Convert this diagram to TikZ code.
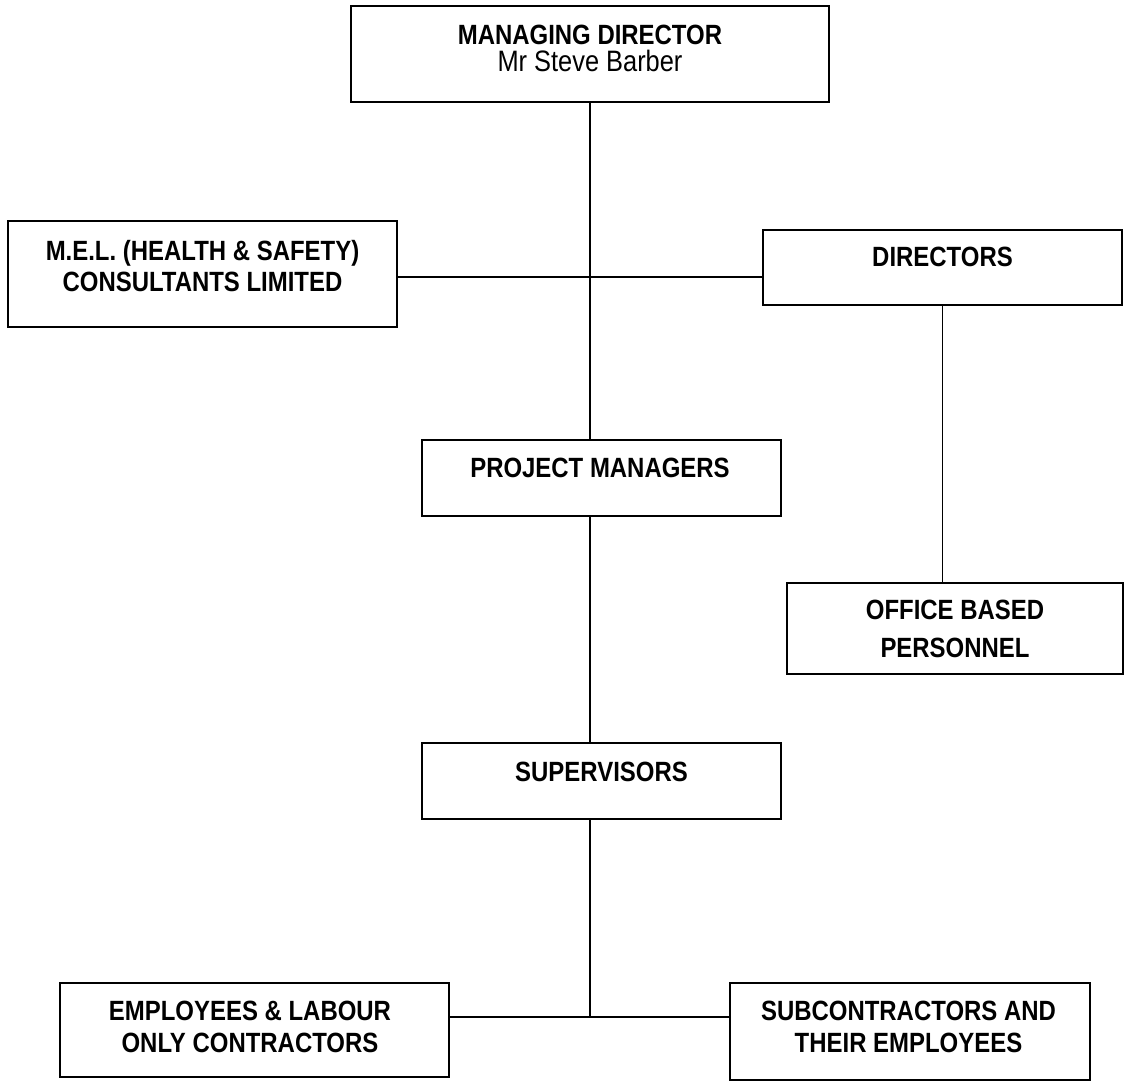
\documentclass[tikz,border=0pt]{standalone}
\usepackage{fontspec}
\setmainfont{Liberation Sans}[FakeStretch=0.86]
\usetikzlibrary{positioning}

\tikzset{
	box/.style={draw, line width=1.8pt, inner sep=0pt},
	title/.style={font=\bfseries\fontsize{19.8}{22.6}\selectfont, align=center, inner sep=0pt},
	link/.style={line width=0.9pt}
}

\begin{document}
\begin{tikzpicture}[x=0.025cm, y=-0.025cm]
		\useasboundingbox (0,0) rectangle (1127,1091);
		% boxes
		\node [box, minimum width=11.95cm, minimum height=2.4cm] (md) at (590,54) {};
		\node [box, minimum width=9.725cm, minimum height=2.65cm] (mel) at (202.5,274) {};
		\node [box, minimum width=8.975cm, minimum height=1.875cm] (dir) at (942.5,267.5) {};
		\node [box, minimum width=8.975cm, minimum height=1.9cm] (pm) at (601.5,478) {};
		\node [box, minimum width=8.4cm, minimum height=2.275cm] (office) at (955,628.5) {};
		\node [box, minimum width=8.975cm, minimum height=1.9cm] (sup) at (601.5,781) {};
		\node [box, minimum width=9.725cm, minimum height=2.35cm] (emp) at (254.5,1030) {};
		\node [box, minimum width=9cm, minimum height=2.425cm] (sub) at (910,1031.5) {};
		% texts
		\node [title, font=\fontsize{19.8}{19.4}\selectfont] (md-t) at (590,48.5) {\bfseries MANAGING DIRECTOR\\\fontsize{21}{19.4}\selectfont Mr Steve Barber};
		\node [title] (mel-t) at (202.5,266) {M.E.L. (HEALTH \& SAFETY)\\CONSULTANTS LIMITED};
		\node [title] (dir-t) at (942.5,256.7) {DIRECTORS};
		\node [title] (pm-t) at (600,468) {PROJECT MANAGERS};
		\node [title, font=\bfseries\fontsize{19.8}{27}\selectfont] (office-t) at (955,628.8) {OFFICE BASED\\PERSONNEL};
		\node [title] (sup-t) at (601.5,771.7) {SUPERVISORS};
		\node [title] (emp-t) at (250,1026.8) {EMPLOYEES \& LABOUR\\ONLY CONTRACTORS};
		\node [title] (sub-t) at (908.5,1026.7) {SUBCONTRACTORS AND\\THEIR EMPLOYEES};
		% connectors
		\coordinate (mid) at (590,277);
		\coordinate (foot) at (590,1017);
		\draw [link] (md.south) -- (md.south |- pm.north);
		\draw [link] (mel.east |- mid) -- (dir.west |- mid);
		\draw [link] (dir.south) -- (dir.south |- office.north);
		\draw [link] (md.south |- pm.south) -- (md.south |- sup.north);
		\draw [link] (md.south |- sup.south) -- (foot);
		\draw [link] (emp.east |- foot) -- (sub.west |- foot);
	\end{tikzpicture}
\end{document}
